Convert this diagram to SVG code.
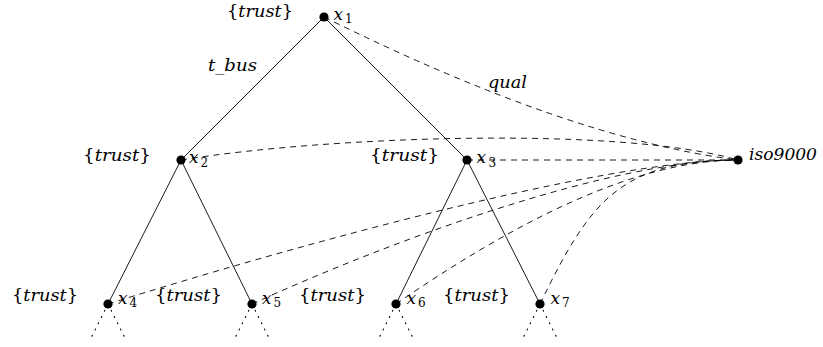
<svg xmlns="http://www.w3.org/2000/svg" width="823" height="347" viewBox="0 0 823 347">
<style>
  .e{stroke:#000;stroke-width:0.9;fill:none}
  .d{stroke:#000;stroke-width:0.9;fill:none;stroke-dasharray:6 5}
  .o{stroke:#000;stroke-width:1.1;fill:none;stroke-dasharray:1 6;stroke-linecap:round}
  .n{fill:#000}
  text{font-family:"DejaVu Serif","Liberation Serif",serif;font-style:italic;font-size:17px;fill:#000}
  .b{font-style:normal}
  .s{font-size:12px;font-style:normal}
</style>
<rect width="823" height="347" fill="#fff"/>
<g id="connectors">
  <line class="e" x1="324" y1="17" x2="181" y2="160"/>
  <line class="e" x1="324" y1="17" x2="467" y2="160"/>
  <line class="e" x1="181" y1="160" x2="108" y2="304"/>
  <line class="e" x1="181" y1="160" x2="252" y2="304"/>
  <line class="e" x1="467" y1="160" x2="396" y2="304"/>
  <line class="e" x1="467" y1="160" x2="540" y2="304"/>
  <path class="d" d="M324,17 Q570,139 738,160"/>
  <path class="d" d="M181,160 C330,136 620,126 738,160"/>
  <path class="d" d="M467,160 L738,160"/>
  <path class="d" d="M108,304 C280,250 600,160 738,160"/>
  <path class="d" d="M252,304 C390,241 610,160 738,160"/>
  <path class="d" d="M396,304 C505,229 630,160 738,160"/>
  <path class="d" d="M540,304 C590,201 620,160 738,160"/>
  <path class="o" d="M108,304 L90,340 M108,304 L126,340"/>
  <path class="o" d="M252,304 L234,340 M252,304 L270,340"/>
  <path class="o" d="M396,304 L378,340 M396,304 L414,340"/>
  <path class="o" d="M540,304 L522,340 M540,304 L558,340"/>
  <text x="208" y="71" textLength="49" lengthAdjust="spacingAndGlyphs">t_bus</text>
  <text x="488" y="88" textLength="39" lengthAdjust="spacingAndGlyphs">qual</text>
</g>
<g id="x1">
  <circle class="n" cx="324" cy="17" r="4.6"/>
  <text x="227" y="17" textLength="66" lengthAdjust="spacingAndGlyphs"><tspan class="b">{</tspan>trust<tspan class="b">}</tspan></text>
  <text x="333.5" y="19.5">x<tspan class="s" x="345" y="23">1</tspan></text>
</g>
<g id="x2">
  <circle class="n" cx="181" cy="160" r="4.6"/>
  <text x="83" y="160.5" textLength="68" lengthAdjust="spacingAndGlyphs"><tspan class="b">{</tspan>trust<tspan class="b">}</tspan></text>
  <text x="189" y="163">x<tspan class="s" x="200.5" y="166.5">2</tspan></text>
</g>
<g id="x3">
  <circle class="n" cx="467" cy="160" r="4.6"/>
  <text x="370" y="160.5" textLength="69" lengthAdjust="spacingAndGlyphs"><tspan class="b">{</tspan>trust<tspan class="b">}</tspan></text>
  <text x="476.5" y="163">x<tspan class="s" x="488.5" y="166.5">3</tspan></text>
</g>
<g id="iso9000">
  <circle class="n" cx="738" cy="160" r="4.6"/>
  <text x="749" y="160" textLength="68" lengthAdjust="spacingAndGlyphs">iso9000</text>
</g>
<g id="x4">
  <circle class="n" cx="108" cy="304" r="4.6"/>
  <text x="12" y="301" textLength="66" lengthAdjust="spacingAndGlyphs"><tspan class="b">{</tspan>trust<tspan class="b">}</tspan></text>
  <text x="118" y="303.5">x<tspan class="s" x="129.5" y="307">4</tspan></text>
</g>
<g id="x5">
  <circle class="n" cx="252" cy="304" r="4.6"/>
  <text x="155" y="301" textLength="67" lengthAdjust="spacingAndGlyphs"><tspan class="b">{</tspan>trust<tspan class="b">}</tspan></text>
  <text x="262" y="303.5">x<tspan class="s" x="273.5" y="307">5</tspan></text>
</g>
<g id="x6">
  <circle class="n" cx="396" cy="304" r="4.6"/>
  <text x="299" y="301" textLength="67" lengthAdjust="spacingAndGlyphs"><tspan class="b">{</tspan>trust<tspan class="b">}</tspan></text>
  <text x="406.5" y="303.5">x<tspan class="s" x="418" y="307">6</tspan></text>
</g>
<g id="x7">
  <circle class="n" cx="540" cy="304" r="4.6"/>
  <text x="443" y="301" textLength="67" lengthAdjust="spacingAndGlyphs"><tspan class="b">{</tspan>trust<tspan class="b">}</tspan></text>
  <text x="550.5" y="303.5">x<tspan class="s" x="562" y="307">7</tspan></text>
</g>
</svg>
